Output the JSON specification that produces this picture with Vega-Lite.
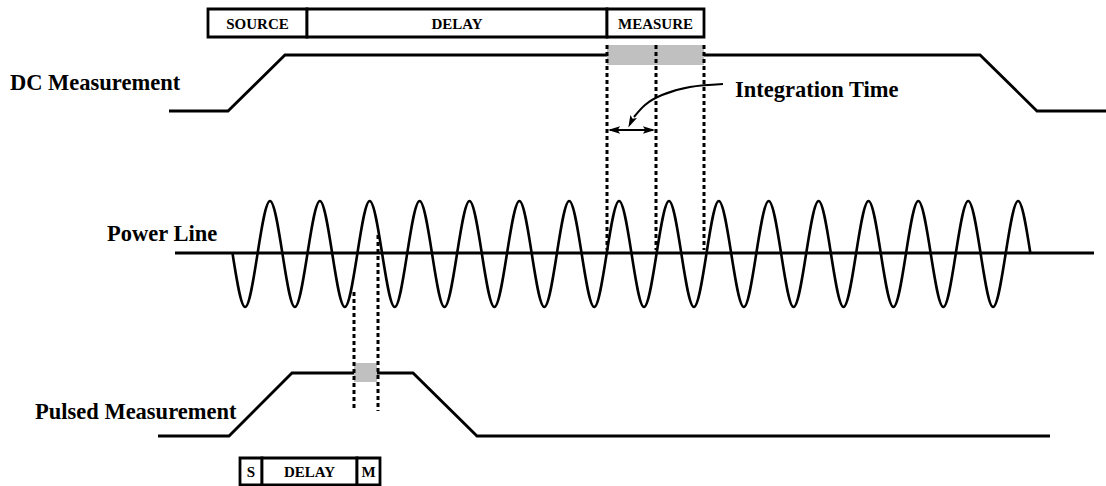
{
  "$schema": "https://vega.github.io/schema/vega-lite/v6.json",
  "width": 1106,
  "height": 486,
  "autosize": {"type": "none"},
  "padding": 0,
  "background": "white",
  "config": {"view": {"stroke": null}},
  "datasets": {
    "paths": [
      {"id": "dc", "o": 1, "x": 169, "y": 111}, {"id": "dc", "o": 2, "x": 228, "y": 111}, {"id": "dc", "o": 3, "x": 285, "y": 55},
      {"id": "dc", "o": 4, "x": 980, "y": 55}, {"id": "dc", "o": 5, "x": 1037, "y": 111}, {"id": "dc", "o": 6, "x": 1106, "y": 111},
      {"id": "pl", "o": 1, "x": 175, "y": 253}, {"id": "pl", "o": 2, "x": 1094, "y": 253},
      {"id": "pu", "o": 1, "x": 158, "y": 436}, {"id": "pu", "o": 2, "x": 229, "y": 436}, {"id": "pu", "o": 3, "x": 292, "y": 373},
      {"id": "pu", "o": 4, "x": 413, "y": 373}, {"id": "pu", "o": 5, "x": 477, "y": 436}, {"id": "pu", "o": 6, "x": 1050, "y": 436}
    ],
    "arrowline": [
      {"o": 1, "x": 610, "y": 130}, {"o": 2, "x": 653, "y": 130}
    ],
    "sine": [
      {"o": 0, "x": 232.6, "y": 254}, {"o": 1, "x": 245.1, "y": 307}, {"o": 2, "x": 257.5, "y": 254}, {"o": 3, "x": 270.0, "y": 201},
      {"o": 4, "x": 282.5, "y": 254}, {"o": 5, "x": 294.9, "y": 307}, {"o": 6, "x": 307.4, "y": 254}, {"o": 7, "x": 319.9, "y": 201},
      {"o": 8, "x": 332.3, "y": 254}, {"o": 9, "x": 344.8, "y": 307}, {"o": 10, "x": 357.3, "y": 254}, {"o": 11, "x": 369.7, "y": 201},
      {"o": 12, "x": 382.2, "y": 254}, {"o": 13, "x": 394.7, "y": 307}, {"o": 14, "x": 407.1, "y": 254}, {"o": 15, "x": 419.6, "y": 201},
      {"o": 16, "x": 432.1, "y": 254}, {"o": 17, "x": 444.5, "y": 307}, {"o": 18, "x": 457.0, "y": 254}, {"o": 19, "x": 469.5, "y": 201},
      {"o": 20, "x": 481.9, "y": 254}, {"o": 21, "x": 494.4, "y": 307}, {"o": 22, "x": 506.9, "y": 254}, {"o": 23, "x": 519.4, "y": 201},
      {"o": 24, "x": 531.8, "y": 254}, {"o": 25, "x": 544.3, "y": 307}, {"o": 26, "x": 556.8, "y": 254}, {"o": 27, "x": 569.2, "y": 201},
      {"o": 28, "x": 581.7, "y": 254}, {"o": 29, "x": 594.2, "y": 307}, {"o": 30, "x": 606.6, "y": 254}, {"o": 31, "x": 619.1, "y": 201},
      {"o": 32, "x": 631.6, "y": 254}, {"o": 33, "x": 644.0, "y": 307}, {"o": 34, "x": 656.5, "y": 254}, {"o": 35, "x": 669.0, "y": 201},
      {"o": 36, "x": 681.4, "y": 254}, {"o": 37, "x": 693.9, "y": 307}, {"o": 38, "x": 706.4, "y": 254}, {"o": 39, "x": 718.8, "y": 201},
      {"o": 40, "x": 731.3, "y": 254}, {"o": 41, "x": 743.8, "y": 307}, {"o": 42, "x": 756.2, "y": 254}, {"o": 43, "x": 768.7, "y": 201},
      {"o": 44, "x": 781.2, "y": 254}, {"o": 45, "x": 793.6, "y": 307}, {"o": 46, "x": 806.1, "y": 254}, {"o": 47, "x": 818.6, "y": 201},
      {"o": 48, "x": 831.0, "y": 254}, {"o": 49, "x": 843.5, "y": 307}, {"o": 50, "x": 856.0, "y": 254}, {"o": 51, "x": 868.5, "y": 201},
      {"o": 52, "x": 880.9, "y": 254}, {"o": 53, "x": 893.4, "y": 307}, {"o": 54, "x": 905.9, "y": 254}, {"o": 55, "x": 918.3, "y": 201},
      {"o": 56, "x": 930.8, "y": 254}, {"o": 57, "x": 943.3, "y": 307}, {"o": 58, "x": 955.7, "y": 254}, {"o": 59, "x": 968.2, "y": 201},
      {"o": 60, "x": 980.7, "y": 254}, {"o": 61, "x": 993.1, "y": 307}, {"o": 62, "x": 1005.6, "y": 254}, {"o": 63, "x": 1018.1, "y": 201},
      {"o": 64, "x": 1030.5, "y": 254}
    ],
    "grey": [
      {"x": 607, "x2": 656, "y": 45, "y2": 65},
      {"x": 656, "x2": 704, "y": 45, "y2": 65},
      {"x": 354, "x2": 377, "y": 363, "y2": 382}
    ],
    "dots": [
      {"x": 607, "y": 45, "y2": 250}, {"x": 656, "y": 45, "y2": 250}, {"x": 704, "y": 45, "y2": 250},
      {"x": 354, "y": 292, "y2": 411}, {"x": 378, "y": 235, "y2": 411}
    ],
    "boxes": [
      {"x": 208, "x2": 307, "y": 9, "y2": 37}, {"x": 307, "x2": 607, "y": 9, "y2": 37}, {"x": 607, "x2": 704, "y": 9, "y2": 37},
      {"x": 240, "x2": 262, "y": 458, "y2": 485}, {"x": 262, "x2": 357, "y": 458, "y2": 485}, {"x": 357, "x2": 380, "y": 458, "y2": 485}
    ],
    "curve": [
      {"o": 1, "x": 723, "y": 84}, {"o": 2, "x": 690, "y": 87}, {"o": 3, "x": 662, "y": 95}, {"o": 4, "x": 645, "y": 105}, {"o": 5, "x": 634, "y": 117}
    ],
    "heads": [
      {"x": 631, "y": 122, "a": 206},
      {"x": 614, "y": 130, "a": 270},
      {"x": 649, "y": 130, "a": 90}
    ],
    "labels": [
      {"t": "DC Measurement", "x": 10, "y": 90},
      {"t": "Power Line", "x": 107, "y": 241},
      {"t": "Pulsed Measurement", "x": 35, "y": 419},
      {"t": "Integration Time", "x": 735, "y": 97}
    ],
    "boxlabels": [
      {"t": "SOURCE", "x": 257.5, "y": 24}, {"t": "DELAY", "x": 457, "y": 24}, {"t": "MEASURE", "x": 655.5, "y": 24},
      {"t": "S", "x": 251, "y": 472}, {"t": "DELAY", "x": 309.5, "y": 472}, {"t": "M", "x": 368.5, "y": 472}
    ]
  },
  "layer": [
    {
      "data": {"name": "boxes"},
      "mark": {"type": "rect", "fill": "white", "stroke": "black", "strokeWidth": 2.8},
      "encoding": {
        "x": {"field": "x", "type": "quantitative", "scale": {"domain": [0, 1106], "nice": false, "zero": false}, "axis": null},
        "x2": {"field": "x2"},
        "y": {"field": "y", "type": "quantitative", "scale": {"domain": [0, 486], "nice": false, "zero": false, "reverse": true}, "axis": null},
        "y2": {"field": "y2"}
      }
    },
    {
      "data": {"name": "paths"},
      "mark": {"type": "line", "color": "black", "strokeWidth": 2.8, "strokeJoin": "miter"},
      "encoding": {
        "x": {"field": "x", "type": "quantitative"},
        "y": {"field": "y", "type": "quantitative"},
        "detail": {"field": "id"},
        "order": {"field": "o", "type": "quantitative"}
      }
    },
    {
      "data": {"name": "arrowline"},
      "mark": {"type": "line", "color": "black", "strokeWidth": 2},
      "encoding": {
        "x": {"field": "x", "type": "quantitative"},
        "y": {"field": "y", "type": "quantitative"},
        "order": {"field": "o", "type": "quantitative"}
      }
    },
    {
      "data": {"name": "sine"},
      "mark": {"type": "line", "color": "black", "strokeWidth": 2.6, "interpolate": "natural"},
      "encoding": {
        "x": {"field": "x", "type": "quantitative"},
        "y": {"field": "y", "type": "quantitative"},
        "order": {"field": "o", "type": "quantitative"}
      }
    },
    {
      "data": {"name": "grey"},
      "mark": {"type": "rect", "fill": "#c0c0c0"},
      "encoding": {
        "x": {"field": "x", "type": "quantitative"},
        "x2": {"field": "x2"},
        "y": {"field": "y", "type": "quantitative"},
        "y2": {"field": "y2"}
      }
    },
    {
      "data": {"name": "dots"},
      "mark": {"type": "rule", "color": "black", "strokeWidth": 3, "strokeDash": [4, 3]},
      "encoding": {
        "x": {"field": "x", "type": "quantitative"},
        "y": {"field": "y", "type": "quantitative"},
        "y2": {"field": "y2"}
      }
    },
    {
      "data": {"name": "curve"},
      "mark": {"type": "line", "color": "black", "strokeWidth": 2, "interpolate": "natural"},
      "encoding": {
        "x": {"field": "x", "type": "quantitative"},
        "y": {"field": "y", "type": "quantitative"},
        "order": {"field": "o", "type": "quantitative"}
      }
    },
    {
      "data": {"name": "heads"},
      "mark": {"type": "point", "shape": "M0,-1L0.6,1L0,0.6L-0.6,1Z", "filled": true, "color": "black", "opacity": 1, "size": 150, "strokeWidth": 0},
      "encoding": {
        "x": {"field": "x", "type": "quantitative"},
        "y": {"field": "y", "type": "quantitative"},
        "angle": {"field": "a", "type": "quantitative", "scale": null}
      }
    },
    {
      "data": {"name": "labels"},
      "mark": {"type": "text", "font": "Liberation Serif", "fontWeight": "bold", "fontSize": 22.5, "align": "left", "baseline": "alphabetic", "color": "black"},
      "encoding": {
        "x": {"field": "x", "type": "quantitative"},
        "y": {"field": "y", "type": "quantitative"},
        "text": {"field": "t"}
      }
    },
    {
      "data": {"name": "boxlabels"},
      "mark": {"type": "text", "font": "Liberation Serif", "fontWeight": "bold", "fontSize": 15, "align": "center", "baseline": "middle", "color": "black"},
      "encoding": {
        "x": {"field": "x", "type": "quantitative"},
        "y": {"field": "y", "type": "quantitative"},
        "text": {"field": "t"}
      }
    }
  ]
}
